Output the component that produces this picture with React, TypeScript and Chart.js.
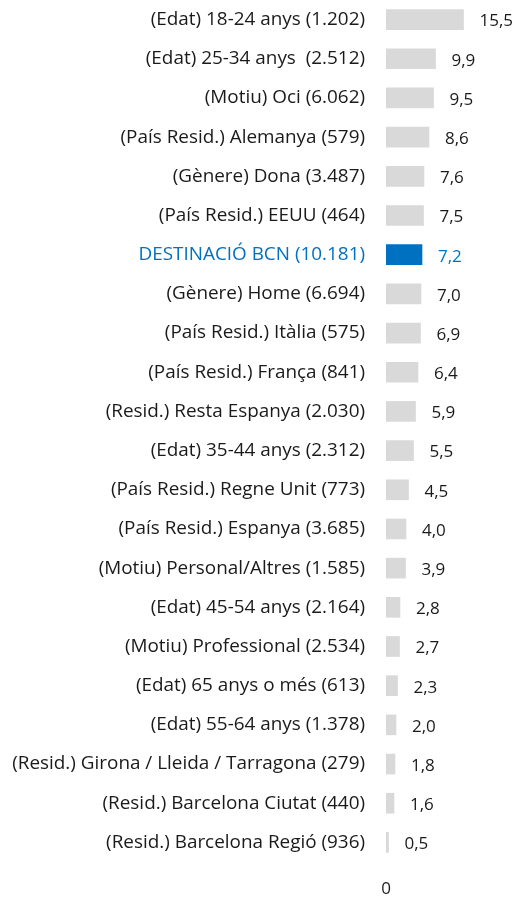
import React, { useEffect, useRef } from "react";
import { Chart, registerables } from "chart.js";

Chart.register(...registerables);

const categories = [
  "(Edat) 18-24 anys (1.202)",
  "(Edat) 25-34 anys  (2.512)",
  "(Motiu) Oci (6.062)",
  "(País Resid.) Alemanya (579)",
  "(Gènere) Dona (3.487)",
  "(País Resid.) EEUU (464)",
  "DESTINACIÓ BCN (10.181)",
  "(Gènere) Home (6.694)",
  "(País Resid.) Itàlia (575)",
  "(País Resid.) França (841)",
  "(Resid.) Resta Espanya (2.030)",
  "(Edat) 35-44 anys (2.312)",
  "(País Resid.) Regne Unit (773)",
  "(País Resid.) Espanya (3.685)",
  "(Motiu) Personal/Altres (1.585)",
  "(Edat) 45-54 anys (2.164)",
  "(Motiu) Professional (2.534)",
  "(Edat) 65 anys o més (613)",
  "(Edat) 55-64 anys (1.378)",
  "(Resid.) Girona / Lleida / Tarragona (279)",
  "(Resid.) Barcelona Ciutat (440)",
  "(Resid.) Barcelona Regió (936)",
];

const values = [15.5, 9.9, 9.5, 8.6, 7.6, 7.5, 7.2, 7.0, 6.9, 6.4, 5.9, 5.5, 4.5, 4.0, 3.9, 2.8, 2.7, 2.3, 2.0, 1.8, 1.6, 0.5];

const highlightLabel = "DESTINACIÓ BCN (10.181)";
const xTickValues = [0];

const FONT = "'Open Sans', sans-serif";
const GRAY = "#D9D9D9";
const BLUE = "#0070C0";
const TEXT = "#1a1a1a";

const isHi = (i: number) => categories[i] === highlightLabel;

const valueLabels = {
  id: "valueLabels",
  afterDatasetsDraw(chart: any) {
    const { ctx } = chart;
    const meta = chart.getDatasetMeta(0);
    ctx.save();
    ctx.font = `17px ${FONT}`;
    ctx.textBaseline = "middle";
    ctx.textAlign = "left";
    meta.data.forEach((bar: any, i: number) => {
      ctx.fillStyle = isHi(i) ? BLUE : TEXT;
      const txt = values[i].toFixed(1).replace(".", ",");
      ctx.fillText(txt, bar.x + 16, bar.y + 2);
    });
    ctx.restore();
  },
};

export default function App() {
  const ref = useRef<HTMLCanvasElement>(null);
  useEffect(() => {
    if (!ref.current) return;
    const chart = new Chart(ref.current, {
      type: "bar",
      data: {
        labels: categories,
        datasets: [
          {
            data: values,
            backgroundColor: categories.map((_, i) => (isHi(i) ? BLUE : GRAY)),
            borderWidth: 0,
            barThickness: 20,
          },
        ],
      },
      options: {
        indexAxis: "y",
        responsive: false,
        animation: false,
        maintainAspectRatio: false,
        layout: { padding: 0 },
        plugins: { legend: { display: false }, tooltip: { enabled: false } },
        scales: {
          x: {
            min: 0,
            max: 26.8,
            grid: { display: false, drawTicks: false },
            border: { display: false },
            afterBuildTicks: (s: any) => {
              s.ticks = xTickValues.map((v) => ({ value: v }));
            },
            afterFit: (s: any) => {
              s.height = 37;
              s.paddingLeft = 0;
              s.paddingRight = 0;
            },
            ticks: {
              padding: 17,
              color: TEXT,
              font: { family: FONT, size: 17 },
              callback: (v: any) => String(v),
            },
          },
          y: {
            grid: { display: false, drawTicks: false },
            border: { display: false },
            afterFit: (s: any) => {
              s.width = 386;
              s.paddingTop = 0;
              s.paddingBottom = 0;
            },
            ticks: {
              padding: 21,
              autoSkip: false,
              font: { family: FONT, size: 18.9 },
              color: (c: any) => (isHi(c.index) ? BLUE : TEXT),
            },
          },
        },
      },
      plugins: [valueLabels],
    });
    return () => chart.destroy();
  }, []);
  return (
    <div style={{ position: "fixed", left: 0, top: 0, width: 520, height: 899, background: "#fff" }}>
      <canvas ref={ref} width={520} height={899} style={{ display: "block" }} />
    </div>
  );
}
